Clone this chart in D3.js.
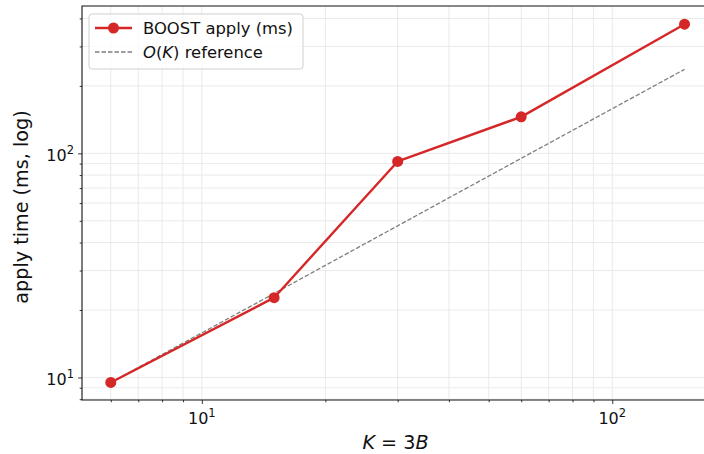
<!DOCTYPE html>
<html><head><meta charset="utf-8">
<script src="https://cdn.jsdelivr.net/npm/d3@7"></script>
<style>
html,body{margin:0;padding:0;background:#fff;}
svg{display:block;font-family:"DejaVu Sans",sans-serif;}
</style></head>
<body><svg id="c" width="704" height="454"></svg>
<script>
const kValues = [6, 15, 30, 60, 150];
const boostMs = [9.5, 22.7, 92, 145.5, 377];
const refMs = [9.5, 23.7, 47.5, 95, 237];
const xMajorTicks = [10, 100];
const yMajorTicks = [10, 100];
const xMinorTicks = [6, 7, 8, 9, 20, 30, 40, 50, 60, 70, 80, 90, 200];
const yMinorTicks = [8, 9, 20, 30, 40, 50, 60, 70, 80, 90, 200, 300, 400];
const seriesNames = ["BOOST apply (ms)", "reference"];

const svg = d3.select("#c");
const L = 82, R = 713, T = 6, B = 400;
const x = d3.scaleLog().domain([Math.pow(10,0.708), Math.pow(10,2.2455)]).range([L, R]);
const y = d3.scaleLog().domain([Math.pow(10,0.8995), Math.pow(10,2.6575)]).range([B, T]);

const grid = svg.append("g");
xMinorTicks.concat(xMajorTicks).forEach(v => {
  grid.append("line").attr("x1", x(v)).attr("x2", x(v)).attr("y1", T).attr("y2", B)
    .attr("stroke", "#e8e8e8").attr("stroke-width", 0.9);
});
yMinorTicks.concat(yMajorTicks).forEach(v => {
  grid.append("line").attr("y1", y(v)).attr("y2", y(v)).attr("x1", L).attr("x2", R)
    .attr("stroke", "#e8e8e8").attr("stroke-width", 0.9);
});

// axes with d3
const fmt = () => "";
const xAxisMajor = d3.axisBottom(x).tickValues(xMajorTicks).tickSize(4).tickFormat(fmt);
const xAxisMinor = d3.axisBottom(x).tickValues(xMinorTicks).tickSize(2.3).tickFormat(fmt);
const yAxisMajor = d3.axisLeft(y).tickValues(yMajorTicks).tickSize(4).tickFormat(fmt);
const yAxisMinor = d3.axisLeft(y).tickValues(yMinorTicks).tickSize(2.3).tickFormat(fmt);
[xAxisMinor, xAxisMajor].forEach(a => {
  const g = svg.append("g").attr("transform", `translate(0,${B})`).call(a);
  g.select(".domain").remove();
  g.selectAll("line").attr("stroke", "#222").attr("stroke-width", 0.9);
});
[yAxisMinor, yAxisMajor].forEach(a => {
  const g = svg.append("g").attr("transform", `translate(${L},0)`).call(a);
  g.select(".domain").remove();
  g.selectAll("line").attr("stroke", "#222").attr("stroke-width", 0.9);
});

// tick labels 10^n
function powLabel(g, v, px, py, anchor) {
  const e = Math.round(Math.log10(v));
  const t = g.append("text").attr("x", px).attr("y", py).attr("text-anchor", anchor)
    .attr("font-size", 16).attr("fill", "#111");
  t.append("tspan").text("10");
  t.append("tspan").attr("font-size", 11.5).attr("dy", -7).text(String(e));
}
const lab = svg.append("g");
xMajorTicks.forEach(v => powLabel(lab, v, x(v), 424, "middle"));
yMajorTicks.forEach(v => powLabel(lab, v, 74, y(v) + 8, "end"));

// spines
svg.append("path").attr("d", `M${L},${T}H${R}V${B}H${L}Z`).attr("fill", "none")
  .attr("stroke", "#111").attr("stroke-width", 1.1);

// reference line
const line = d3.line().x((d, i) => x(kValues[i])).y(d => y(d));
svg.append("path").datum(refMs).attr("d", line).attr("fill", "none")
  .attr("stroke", "#7f7f7f").attr("stroke-width", 1.3).attr("stroke-dasharray", "4.5,2");

// boost series
svg.append("path").datum(boostMs).attr("d", line).attr("fill", "none")
  .attr("stroke", "#d62728").attr("stroke-width", 2.4).attr("stroke-linejoin", "round");
svg.selectAll("circle.pt").data(boostMs).enter().append("circle").attr("class", "pt")
  .attr("cx", (d, i) => x(kValues[i])).attr("cy", d => y(d)).attr("r", 5.5).attr("fill", "#d62728");

// legend
const lg = svg.append("g");
lg.append("rect").attr("x", 89).attr("y", 14).attr("width", 214).attr("height", 55).attr("rx", 3)
  .attr("fill", "#fff").attr("fill-opacity", 0.8).attr("stroke", "#d0d0d0").attr("stroke-width", 1);
lg.append("line").attr("x1", 95).attr("x2", 132).attr("y1", 28).attr("y2", 28)
  .attr("stroke", "#d62728").attr("stroke-width", 2.4);
lg.append("circle").attr("cx", 113.5).attr("cy", 28).attr("r", 5.5).attr("fill", "#d62728");
lg.append("line").attr("x1", 95).attr("x2", 132).attr("y1", 52).attr("y2", 52)
  .attr("stroke", "#7f7f7f").attr("stroke-width", 1.3).attr("stroke-dasharray", "4.5,2");
lg.append("text").attr("x", 143).attr("y", 33.5).attr("font-size", 16.4).attr("fill", "#111").text(seriesNames[0]);
const t2 = lg.append("text").attr("x", 143).attr("y", 57.5).attr("font-size", 16.4).attr("fill", "#111");
t2.append("tspan").attr("font-style", "italic").text("O");
t2.append("tspan").text("(");
t2.append("tspan").attr("font-style", "italic").text("K");
t2.append("tspan").text(") " + seriesNames[1]);

// axis labels
const xl = svg.append("text").attr("x", (L + R) / 2 - 2).attr("y", 449).attr("text-anchor", "middle")
  .attr("font-size", 19.2).attr("fill", "#111");
xl.append("tspan").attr("font-style", "italic").text("K");
xl.append("tspan").text(" = 3");
xl.append("tspan").attr("font-style", "italic").text("B");

svg.append("text").attr("transform", `translate(28,${(T + B) / 2 + 4}) rotate(-90)`)
  .attr("text-anchor", "middle").attr("font-size", 19.2).attr("fill", "#111")
  .text("apply time (ms, log)");
</script></body></html>
